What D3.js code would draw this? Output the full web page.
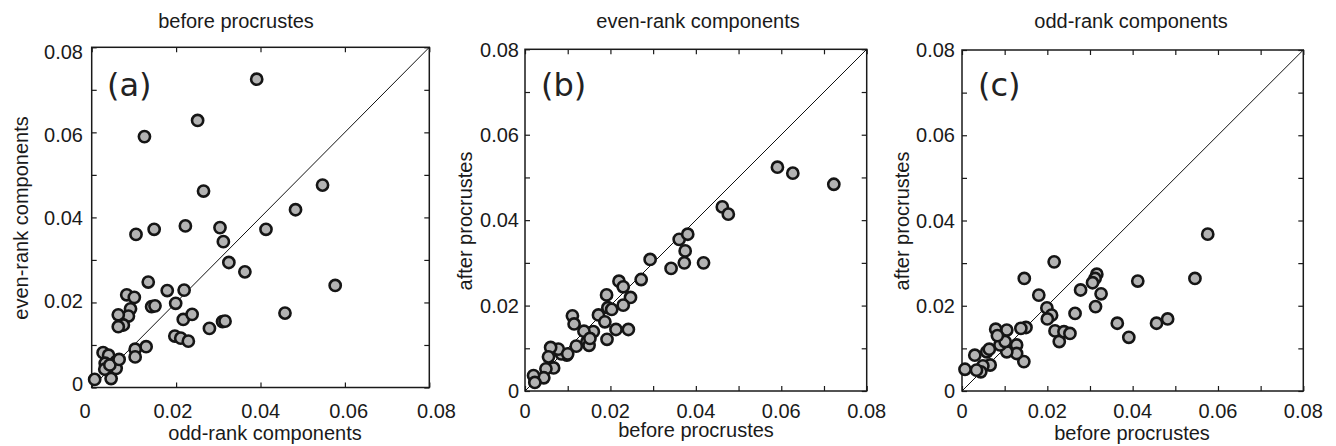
<!DOCTYPE html>
<html>
<head>
<meta charset="utf-8">
<script src="https://cdn.jsdelivr.net/npm/d3@7"></script>
<style>
  html, body { margin: 0; padding: 0; background: #fff; }
  svg { display: block; }
  text { font-family: "Liberation Sans", Arial, Helvetica, sans-serif; fill: #1a1a1a; }
</style>
</head>
<body>
<svg id="chart" width="1336" height="446"></svg>
<script>
// ---------------- data ----------------
const tickLabels = [0, 0.02, 0.04, 0.06, 0.08];
const tickLabelText = ["0", "0.02", "0.04", "0.06", "0.08"];

const titles = ["before procrustes", "even-rank components", "odd-rank components"];
const xTitles = ["odd-rank components", "before procrustes", "before procrustes"];
const yTitles = ["even-rank components", "after procrustes", "after procrustes"];
const panelTags = ["(a)", "(b)", "(c)"];

// panel (a): odd-rank (x) vs even-rank (y), before procrustes
const aOdd  = [0.0391,0.0251,0.0125,0.0265,0.0547,0.0483,0.0105,0.0148,0.0222,0.0304,0.0312,0.0413,0.0325,0.0363,0.0577,0.0134,0.0179,0.0219,0.0083,0.0101,0.0199,0.0142,0.0150,0.0092,0.0087,0.0063,0.0217,0.0238,0.0458,0.0075,0.0063,0.0279,0.0310,0.0316,0.0197,0.0211,0.0229,0.0129,0.0103,0.0103,0.0007,0.0046,0.0027,0.0040,0.0032,0.0031,0.0058,0.0058,0.0043,0.0065];
const aEven = [0.0725,0.0628,0.0590,0.0462,0.0476,0.0418,0.0360,0.0372,0.0380,0.0376,0.0343,0.0372,0.0294,0.0272,0.0240,0.0248,0.0228,0.0229,0.0218,0.0212,0.0198,0.0190,0.0192,0.0185,0.0168,0.0171,0.0160,0.0172,0.0175,0.0147,0.0143,0.0139,0.0155,0.0156,0.0121,0.0116,0.0109,0.0096,0.0090,0.0072,0.0019,0.0021,0.0082,0.0076,0.0057,0.0043,0.0061,0.0045,0.0053,0.0066];

// panel (b): even-rank components, before (x) vs after (y)
const bBefore = [0.0591,0.0627,0.0723,0.0462,0.0476,0.0361,0.0381,0.0375,0.0373,0.0418,0.0342,0.0293,0.0272,0.0220,0.0230,0.0247,0.0230,0.0191,0.0194,0.0203,0.0172,0.0187,0.0111,0.0115,0.0242,0.0213,0.0160,0.0138,0.0192,0.0145,0.0150,0.0152,0.0120,0.0098,0.0085,0.0078,0.0060,0.0055,0.0067,0.0049,0.0044,0.0020,0.0023,0.0100];
const bAfter  = [0.0524,0.0510,0.0484,0.0431,0.0414,0.0355,0.0367,0.0328,0.0300,0.0300,0.0287,0.0308,0.0261,0.0257,0.0244,0.0219,0.0201,0.0225,0.0195,0.0191,0.0178,0.0162,0.0176,0.0157,0.0144,0.0144,0.0139,0.0140,0.0121,0.0115,0.0107,0.0123,0.0105,0.0084,0.0087,0.0098,0.0102,0.0080,0.0054,0.0052,0.0031,0.0036,0.0020,0.0087];

// panel (c): odd-rank components, before (x) vs after (y)
const cBefore = [0.0576,0.0546,0.0412,0.0482,0.0456,0.0364,0.0391,0.0216,0.0146,0.0316,0.0312,0.0306,0.0326,0.0313,0.0278,0.0265,0.0180,0.0199,0.0210,0.0200,0.0218,0.0228,0.0239,0.0253,0.0150,0.0138,0.0145,0.0128,0.0128,0.0105,0.0105,0.0089,0.0101,0.0079,0.0083,0.0058,0.0064,0.0066,0.0049,0.0044,0.0034,0.0030,0.0007];
const cAfter  = [0.0368,0.0264,0.0258,0.0169,0.0159,0.0159,0.0126,0.0303,0.0264,0.0274,0.0264,0.0254,0.0228,0.0198,0.0237,0.0182,0.0225,0.0195,0.0178,0.0169,0.0141,0.0116,0.0139,0.0135,0.0149,0.0147,0.0069,0.0108,0.0088,0.0143,0.0092,0.0108,0.0116,0.0145,0.0130,0.0092,0.0098,0.0061,0.0059,0.0045,0.0049,0.0084,0.0051];

// ---------------- layout ----------------
const panels = [
  { xs: aOdd, ys: aEven, box: [91.7, 429.3, 47.3, 387.5], xMinor: 0.02, yMinor: 0.01,
    xLab: [85, 436.5], yLab: [383.3, 51.7], yLabRight: 83,
    title: [236, 28], xTitle: [265, 440], yTitle: [28, 218], tag: [107, 96] },
  { xs: bBefore, ys: bAfter, box: [525, 866.7, 49.3, 391], xMinor: 0.01, yMinor: 0.01,
    xLab: null, yLab: null, yLabRight: 519,
    title: [698, 28], xTitle: [696, 437], yTitle: [472, 221], tag: [541, 96] },
  { xs: cBefore, ys: cAfter, box: [962, 1303.3, 50, 391], xMinor: 0.01, yMinor: 0.01,
    xLab: null, yLab: null, yLabRight: 955,
    title: [1131, 28], xTitle: [1132, 440], yTitle: [909, 221], tag: [978, 96] }
];

const svg = d3.select("#chart");
const FS = 20;

panels.forEach((p, i) => {
  const [L, R, T, B] = p.box;
  const x = d3.scaleLinear().domain([0, 0.08]).range([L, R]);
  const y = d3.scaleLinear().domain([0, 0.08]).range([B, T]);
  const xl = p.xLab ? d3.scaleLinear().domain([0, 0.08]).range(p.xLab) : x;
  const yl = p.yLab ? d3.scaleLinear().domain([0, 0.08]).range(p.yLab) : y;
  const g = svg.append("g");

  const xTicks = d3.range(0, 0.08 + 1e-9, p.xMinor);
  const yTicks = d3.range(0, 0.08 + 1e-9, p.yMinor);

  // inward ticks on all four sides
  const tk = 5;
  g.append("g").attr("transform", `translate(0,${B})`)
    .call(d3.axisBottom(x).tickValues(xTicks).tickFormat("").tickSizeInner(-tk).tickSizeOuter(0))
    .call(s => s.select(".domain").remove());
  g.append("g").attr("transform", `translate(0,${T})`)
    .call(d3.axisTop(x).tickValues(xTicks).tickFormat("").tickSizeInner(-tk).tickSizeOuter(0))
    .call(s => s.select(".domain").remove());
  g.append("g").attr("transform", `translate(${L},0)`)
    .call(d3.axisLeft(y).tickValues(yTicks).tickFormat("").tickSizeInner(-tk).tickSizeOuter(0))
    .call(s => s.select(".domain").remove());
  g.append("g").attr("transform", `translate(${R},0)`)
    .call(d3.axisRight(y).tickValues(yTicks).tickFormat("").tickSizeInner(-tk).tickSizeOuter(0))
    .call(s => s.select(".domain").remove());
  g.selectAll(".tick line").attr("stroke", "#1a1a1a").attr("stroke-width", 1.2);

  // box
  g.append("rect").attr("x", L).attr("y", T).attr("width", R - L).attr("height", B - T)
    .attr("fill", "none").attr("stroke", "#1a1a1a").attr("stroke-width", 1.5);

  // diagonal
  g.append("line").attr("x1", x(0)).attr("y1", y(0)).attr("x2", x(0.08)).attr("y2", y(0.08))
    .attr("stroke", "#111").attr("stroke-width", 1);

  // tick labels
  g.selectAll(".xlab").data(tickLabels).join("text")
    .attr("x", d => xl(d)).attr("y", 417.5)
    .attr("text-anchor", "middle").attr("font-size", FS)
    .text((d, k) => tickLabelText[k]);
  g.selectAll(".ylab").data(tickLabels).join("text")
    .attr("x", p.yLabRight).attr("y", d => yl(d) + 7.2)
    .attr("text-anchor", "end").attr("font-size", FS)
    .text((d, k) => tickLabelText[k]);

  // titles
  g.append("text").attr("x", p.title[0]).attr("y", p.title[1])
    .attr("text-anchor", "middle").attr("font-size", FS).text(titles[i]);
  g.append("text").attr("x", p.xTitle[0]).attr("y", p.xTitle[1])
    .attr("text-anchor", "middle").attr("font-size", FS).text(xTitles[i]);
  g.append("text").attr("transform", `translate(${p.yTitle[0]},${p.yTitle[1]}) rotate(-90)`)
    .attr("text-anchor", "middle").attr("font-size", FS).text(yTitles[i]);

  // panel tag
  g.append("text").attr("x", p.tag[0]).attr("y", p.tag[1])
    .style("font-family", "'DejaVu Sans', sans-serif").style("fill", "#222")
    .attr("font-size", 32).text(panelTags[i]);

  // points
  const pts = p.xs.map((v, k) => [v, p.ys[k]]);
  g.selectAll("circle").data(pts).join("circle")
    .attr("cx", d => x(d[0])).attr("cy", d => y(d[1])).attr("r", 5.6)
    .attr("fill", "#b3b3b3").attr("stroke", "#151515").attr("stroke-width", 2.6);
});
</script>
</body>
</html>
